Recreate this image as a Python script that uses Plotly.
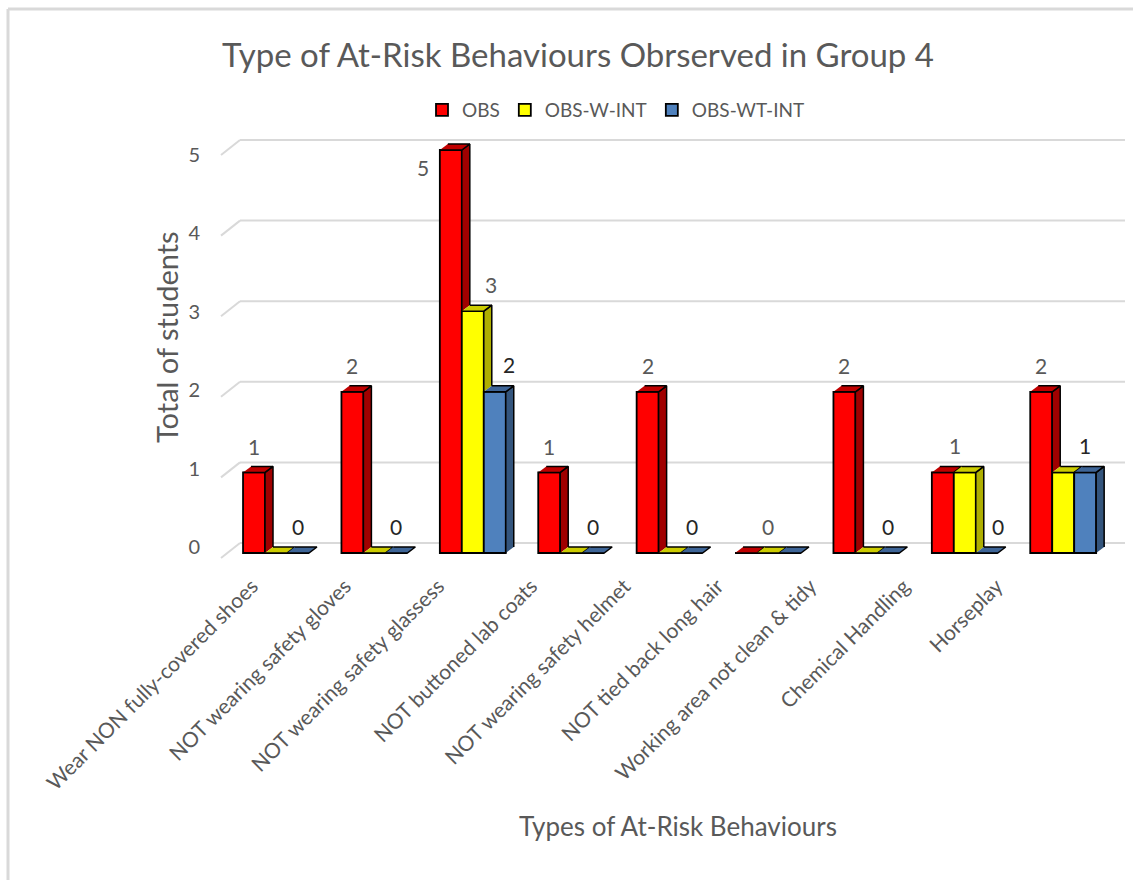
import plotly.graph_objects as go

# ---- data -------------------------------------------------------------
categories = [
    "Wear NON fully-covered shoes",
    "NOT wearing safety gloves",
    "NOT wearing safety glassess",
    "NOT buttoned lab coats",
    "NOT wearing safety helmet",
    "NOT tied back long hair",
    "Working area not clean & tidy",
    "Chemical Handling",
    "Horseplay",
]
series_names = ["OBS", "OBS-W-INT", "OBS-WT-INT"]
obs = [1, 2, 5, 1, 2, 0, 2, 1, 2]
obs_w_int = [0, 0, 3, 0, 0, 0, 0, 1, 1]
obs_wt_int = [0, 0, 2, 0, 0, 0, 0, 0, 1]
y_ticks = [0, 1, 2, 3, 4, 5]

series_values = [obs, obs_w_int, obs_wt_int]

# ---- styling ----------------------------------------------------------
FONT = "Lato"
TEXT_GREY = "#595959"
GRID = "#D9D9D9"
front_colors = ["#FF0000", "#FFFF00", "#4F81BD"]
top_colors = ["#C00000", "#CCCC00", "#3E6597"]
side_colors = ["#A00000", "#AFAF00", "#34557D"]
EDGE = dict(color="black", width=1.8)

# ---- page geometry (pixels) --------------------------------------------
W, H = 1133, 880
PLOT_L, PLOT_R, PLOT_T, PLOT_B = 214, 1130, 128, 566
CAT0_PX, CAT_STEP_PX = 276, 98.4      # first category centre, spacing
ZERO_PX, UNIT_PX = 553, 80.6          # front baseline, pixels per student
DEPTH_X_PX, DEPTH_Y_PX = 8, 6         # oblique depth of each column
WALL_BACK_PX = 10                     # back wall gridlines sit above the front baseline
WALL_LEFT_PX = 240                    # back wall starts here
WALL_RIGHT_PX = 1125
SIDE_DX_PX, SIDE_DY_PX = 19, 15       # side-wall gridline stubs
CATLABEL0_PX, CATLABEL_STEP_PX = 268, 93.1   # category labels sit on the front floor edge
LABEL_ZERO_PX, LABEL_STEP_PX = 547, 78.4     # value-axis labels on the side wall

def dx(px):
    return px / CAT_STEP_PX

def dy(px):
    return px / UNIT_PX

x_range = [dx(PLOT_L - CAT0_PX), dx(PLOT_R - CAT0_PX)]
y_range = [-dy(PLOT_B - ZERO_PX), dy(ZERO_PX - PLOT_T)]
x2_range = [(PLOT_L - CATLABEL0_PX) / CATLABEL_STEP_PX, (PLOT_R - CATLABEL0_PX) / CATLABEL_STEP_PX]
y2_range = [-(PLOT_B - LABEL_ZERO_PX) / LABEL_STEP_PX, (LABEL_ZERO_PX - PLOT_T) / LABEL_STEP_PX]

GROUP_WIDTH = 0.67
BAR_W = GROUP_WIDTH / 3
DX, DY = dx(DEPTH_X_PX), dy(DEPTH_Y_PX)

fig = go.Figure()

# front faces of the columns
for j, (name, vals) in enumerate(zip(series_names, series_values)):
    fig.add_trace(go.Bar(
        x=list(range(len(categories))), y=vals, name=name,
        width=BAR_W, offset=-GROUP_WIDTH / 2 + j * BAR_W,
        marker=dict(color=front_colors[j], line=EDGE),
        hoverinfo="skip",
    ))

# top and side faces (visible parts only)
def add_face(xs, ys, color):
    fig.add_trace(go.Scatter(
        x=xs, y=ys, mode="lines", fill="toself", fillcolor=color,
        line=dict(color="black", width=1.5), showlegend=False, hoverinfo="skip",
    ))

for i in range(len(categories)):
    for j in range(3):
        v = series_values[j][i]
        x0 = i - GROUP_WIDTH / 2 + j * BAR_W
        x1 = x0 + BAR_W
        # side face: hidden below the top of the neighbouring column
        floor = series_values[j + 1][i] if j < 2 else 0
        if v > floor:
            add_face([x1, x1, x1 + DX, x1 + DX], [floor, v, v + DY, floor + DY], side_colors[j])
        # top face
        add_face([x0, x1, x1 + DX, x0 + DX], [v, v, v + DY, v + DY], top_colors[j])

# empty traces so the label axes are drawn
fig.add_trace(go.Scatter(x=[None], y=[None], yaxis="y2", showlegend=False, hoverinfo="skip"))
fig.add_trace(go.Scatter(x=[None], y=[None], xaxis="x2", showlegend=False, hoverinfo="skip"))

# ---- gridlines on the back wall and side wall ----------------------------
shapes = []
for k in y_ticks:
    yb = k + dy(WALL_BACK_PX)
    shapes.append(dict(type="line", xref="x", yref="y", layer="below",
                       x0=dx(WALL_LEFT_PX - CAT0_PX), x1=dx(WALL_RIGHT_PX - CAT0_PX),
                       y0=yb, y1=yb, line=dict(color=GRID, width=2)))
    shapes.append(dict(type="line", xref="x", yref="y", layer="below",
                       x0=dx(WALL_LEFT_PX - SIDE_DX_PX - CAT0_PX), x1=dx(WALL_LEFT_PX - CAT0_PX),
                       y0=yb - dy(SIDE_DY_PX), y1=yb, line=dict(color=GRID, width=2)))

# chart frame (top and left edges)
def px_paper_x(px):
    return (px - PLOT_L) / (PLOT_R - PLOT_L)

def px_paper_y(py):
    return (PLOT_B - py) / (PLOT_B - PLOT_T)

shapes.append(dict(type="line", xref="paper", yref="paper",
                   x0=px_paper_x(8), x1=px_paper_x(W + 5), y0=px_paper_y(9), y1=px_paper_y(9),
                   line=dict(color=GRID, width=3)))
shapes.append(dict(type="line", xref="paper", yref="paper",
                   x0=px_paper_x(8), x1=px_paper_x(8), y0=px_paper_y(9), y1=px_paper_y(H + 5),
                   line=dict(color=GRID, width=3)))

# ---- value labels ------------------------------------------------------
# (series, category, horizontal shift px, height above column top px)
label_specs = [
    (0, 0, 0, 26), (0, 1, 0, 26), (0, 2, -28, -17), (0, 3, 0, 26),
    (0, 4, 0, 26), (0, 6, 0, 26), (0, 8, 0, 26),
    (1, 2, 18, 27), (1, 5, 0, 27), (1, 7, -10, 27),
    (2, 0, 0, 27), (2, 1, 0, 27), (2, 2, 14, 27), (2, 3, 0, 27),
    (2, 4, 0, 27), (2, 6, 0, 27), (2, 7, 11, 27), (2, 8, 0, 27),
]
label_colors = [TEXT_GREY, TEXT_GREY, "#262626"]
annotations = []
for j, i, sx, sy in label_specs:
    v = series_values[j][i]
    xc = i - GROUP_WIDTH / 2 + (j + 0.5) * BAR_W
    annotations.append(dict(
        x=xc + dx(sx), y=v + dy(sy), xref="x", yref="y", text=str(v),
        showarrow=False, xanchor="center", yanchor="middle",
        font=dict(family=FONT, size=21, color=label_colors[j]),
    ))

annotations.append(dict(
    text="Total of students", textangle=-90, showarrow=False,
    xref="paper", yref="paper", x=px_paper_x(166), y=px_paper_y(337),
    xanchor="center", yanchor="middle",
    font=dict(family=FONT, size=29, color=TEXT_GREY),
))
annotations.append(dict(
    text="Types of At-Risk Behaviours", showarrow=False,
    xref="paper", yref="paper", x=px_paper_x(678), y=px_paper_y(826),
    xanchor="center", yanchor="middle",
    font=dict(family=FONT, size=26, color=TEXT_GREY),
))

fig.update_layout(
    width=W, height=H,
    margin=dict(l=PLOT_L, r=W - PLOT_R, t=PLOT_T, b=H - PLOT_B, autoexpand=False),
    paper_bgcolor="white", plot_bgcolor="white",
    barmode="overlay",
    title=dict(text="Type of At-Risk Behaviours Obrserved in Group 4",
               x=578 / W, y=1 - 55 / H, xanchor="center", yanchor="middle",
               font=dict(family=FONT, size=33, color=TEXT_GREY)),
    xaxis=dict(range=x_range, showgrid=False, zeroline=False, showline=False,
               showticklabels=False, ticks=""),
    xaxis2=dict(overlaying="x", side="bottom", anchor="y", range=x2_range,
                tickmode="array", tickvals=list(range(len(categories))),
                ticktext=categories, tickangle=-45, showgrid=False, zeroline=False,
                showline=False, ticks="", ticklabelshift=-16, ticklabelstandoff=3,
                tickfont=dict(family=FONT, size=21, color=TEXT_GREY)),
    yaxis=dict(range=y_range, showgrid=False, zeroline=False, showline=False,
               showticklabels=False, ticks=""),
    yaxis2=dict(overlaying="y", side="left", anchor="x", range=y2_range,
                tickmode="array", tickvals=y_ticks, showgrid=False, zeroline=False,
                showline=False, ticks="", ticklabelstandoff=13,
                tickfont=dict(family=FONT, size=20, color=TEXT_GREY)),
    legend=dict(orientation="h", x=px_paper_x(616), y=px_paper_y(110),
                xanchor="center", yanchor="middle",
                font=dict(family=FONT, size=19, color=TEXT_GREY),
                bgcolor="rgba(0,0,0,0)"),
    shapes=shapes,
    annotations=annotations,
    showlegend=True,
)

fig.write_html("out.html")
